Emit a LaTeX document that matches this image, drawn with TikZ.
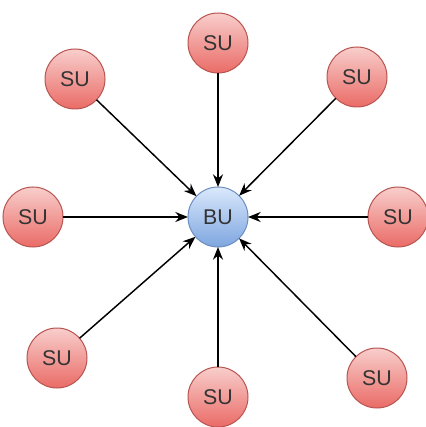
\documentclass[tikz,border=0pt]{standalone}
\usepackage{fontspec}
\setmainfont{Liberation Sans}
\usepackage{xcolor}
\usepackage{tikz}
\usetikzlibrary{arrows.meta}
\tikzset{>=latex}
\definecolor{sutop}{HTML}{F8CECC}
\definecolor{subot}{HTML}{EA6B66}
\definecolor{suline}{HTML}{B85450}
\definecolor{butop}{HTML}{DAE8FC}
\definecolor{bubot}{HTML}{7EA6E0}
\definecolor{buline}{HTML}{6C8EBF}
\colorlet{txtcol}{black!80}
\tikzstyle{unit}=[circle,minimum size=45pt,inner sep=0pt,outer sep=0pt,line width=0.75pt,
  text=txtcol,font=\fontsize{16}{16}\selectfont]
\tikzstyle{su}=[unit,draw=suline,top color=sutop,bottom color=subot]
\tikzstyle{bu}=[unit,draw=buline,top color=butop,bottom color=bubot]
\tikzstyle{link}=[-{Stealth[length=9.5pt,width=7.5pt]},line width=1.1pt,black]

\begin{document}
\begin{tikzpicture}[x=0.75pt,y=-0.75pt]
            \useasboundingbox (0,0) rectangle (425,427);
            % base unit in the middle
            \node[bu] (bu) at (218,217) {BU};
            % satellite units around it
            \node[su] (s1) at (218,43) {SU};
            \node[su] (s2) at (75,79) {SU};
            \node[su] (s3) at (357,77) {SU};
            \node[su] (s4) at (33,217) {SU};
            \node[su] (s5) at (398,217) {SU};
            \node[su] (s6) at (57,358) {SU};
            \node[su] (s7) at (218,397) {SU};
            \node[su] (s8) at (377,378) {SU};
            \foreach \s in {s1,s2,s3,s4,s5,s6,s7,s8}
              \draw[link] (\s) -- (bu);
        \end{tikzpicture}
\end{document}
